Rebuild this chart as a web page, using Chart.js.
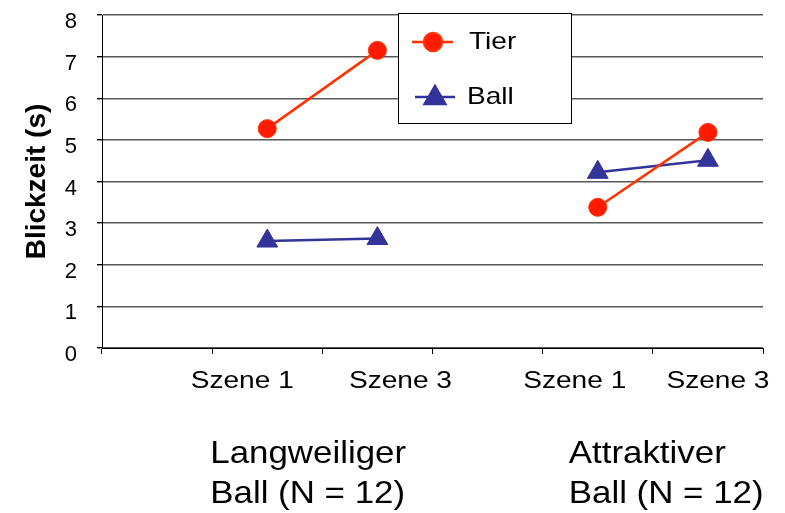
<!DOCTYPE html>
<html>
<head>
<meta charset="utf-8">
<script src="https://cdn.jsdelivr.net/npm/chart.js@4.4.0/dist/chart.umd.min.js"></script>
<style>
  html, body { margin: 0; padding: 0; background: #ffffff; }
  canvas { display: block; }
</style>
</head>
<body>
<canvas id="chart" width="785" height="513"></canvas>
<script>
// Category slots along the x axis (empty slots separate the two groups)
const sceneLabels = ['', 'Szene 1', 'Szene 3', '', 'Szene 1', 'Szene 3'];
// Viewing time in seconds
const tierValues = [null, 5.27, 7.15, null, 3.38, 5.18];
const ballValues = [null, 2.57, 2.63, null, 4.22, 4.51];
// Group captions below the scene labels
const groupCaptions = [
  ['Langweiliger', 'Ball (N = 12)'],
  ['Attraktiver', 'Ball (N = 12)']
];
const yTickValues = [0, 1, 2, 3, 4, 5, 6, 7, 8];
const seriesNames = ['Tier', 'Ball'];

const FONT = "'Liberation Sans', Arial, Helvetica, sans-serif";

function wideText(ctx, text, x, y, size, weight, sx, align, baseline) {
  ctx.save();
  ctx.font = weight + ' ' + size + 'px ' + FONT;
  ctx.fillStyle = '#000000';
  ctx.textAlign = align;
  ctx.textBaseline = baseline;
  ctx.translate(x, y);
  ctx.scale(sx, 1);
  ctx.fillText(text, 0, 0);
  ctx.restore();
}

const annotations = {
  id: 'annotations',
  afterDraw(chart) {
    const { ctx, chartArea } = chart;
    const xs = chart.scales.x;

    // scene labels, nudged apart within each group
    const nudge = [0, -25, 23, 0, -23, 10];
    sceneLabels.forEach((lab, i) => {
      if (!lab) return;
      wideText(ctx, lab, xs.getPixelForValue(i) + nudge[i], chartArea.bottom + 33, 24, 'normal', 1.17, 'center', 'middle');
    });

    // group captions
    const captionX = [xs.getPixelForValue(1) - 57, xs.getPixelForValue(4) - 29];
    groupCaptions.forEach((lines, g) => {
      lines.forEach((line, k) => {
        wideText(ctx, line, captionX[g], chartArea.bottom + 115 + k * 40, 32, 'normal', 1.09, 'left', 'alphabetic');
      });
    });

    // legend box inside the plot
    const bx = chartArea.left + 296, by = chartArea.top - 2, bw = 173, bh = 110;
    ctx.save();
    ctx.fillStyle = '#ffffff';
    ctx.fillRect(bx, by, bw, bh);
    ctx.strokeStyle = '#000000';
    ctx.lineWidth = 1;
    ctx.strokeRect(bx + 0.5, by + 0.5, bw, bh);
    ctx.restore();

    const rows = [
      { y: by + 29, lx0: bx + 14, lx1: bx + 55, mx: bx + 35, tx: bx + 71 },
      { y: by + 84, lx0: bx + 17, lx1: bx + 57, mx: bx + 37, tx: bx + 69 }
    ];
    chart.data.datasets.forEach((ds, i) => {
      const r = rows[i];
      ctx.save();
      ctx.strokeStyle = ds.borderColor;
      ctx.lineWidth = ds.borderWidth;
      ctx.beginPath();
      ctx.moveTo(r.lx0, r.y);
      ctx.lineTo(r.lx1, r.y);
      ctx.stroke();
      ctx.fillStyle = ds.pointBackgroundColor;
      ctx.strokeStyle = ds.pointBorderColor;
      Chart.helpers.drawPoint(ctx, {
        pointStyle: ds.pointStyle,
        radius: ds.pointRadius,
        borderWidth: ds.pointBorderWidth,
        rotation: 0
      }, r.mx, r.y + (ds.pointStyle === 'triangle' ? 1 : 0));
      ctx.restore();
      wideText(ctx, ds.label, r.tx, r.y, 24, 'normal', 1.17, 'left', 'middle');
    });
  }
};

new Chart(document.getElementById('chart'), {
  type: 'line',
  data: {
    labels: sceneLabels,
    datasets: [
      {
        label: seriesNames[0],
        data: tierValues,
        borderColor: '#FF3300',
        borderWidth: 2.5,
        pointStyle: 'circle',
        pointRadius: 9,
        pointBackgroundColor: '#FF1A00',
        pointBorderColor: '#FF3300',
        pointBorderWidth: 1,
        spanGaps: false,
        tension: 0
      },
      {
        label: seriesNames[1],
        data: ballValues,
        borderColor: '#333399',
        borderWidth: 2.5,
        pointStyle: 'triangle',
        pointRadius: 12,
        pointBackgroundColor: '#333399',
        pointBorderColor: '#333399',
        pointBorderWidth: 1,
        spanGaps: false,
        tension: 0
      }
    ]
  },
  options: {
    responsive: false,
    animation: false,
    events: [],
    layout: { padding: { top: 15, right: 22, left: 0, bottom: 0 } },
    plugins: {
      legend: { display: false },
      tooltip: { enabled: false }
    },
    scales: {
      x: {
        type: 'category',
        offset: true,
        grid: {
          offset: true,
          drawOnChartArea: false,
          drawTicks: true,
          tickLength: 6,
          color: '#000000',
          lineWidth: 1
        },
        border: { display: true, color: '#000000', width: 1 },
        ticks: { display: false },
        afterFit(scale) {
          scale.height = 165;
          scale.paddingLeft = 0;
          scale.paddingRight = 0;
        }
      },
      y: {
        min: 0,
        max: 8,
        afterBuildTicks(scale) {
          scale.ticks = yTickValues.map(v => ({ value: v }));
        },
        grid: {
          color: '#595959',
          lineWidth: 1.4,
          drawTicks: true,
          tickLength: 5,
          tickColor: '#000000'
        },
        border: { display: true, color: '#000000', width: 1 },
        ticks: {
          color: '#000000',
          padding: 20,
          labelOffset: 7,
          font: { family: FONT, size: 22 }
        },
        title: {
          display: true,
          text: 'Blickzeit (s)',
          color: '#000000',
          font: { family: FONT, size: 28, weight: 'bold', lineHeight: 1.2 },
          padding: { top: 20, bottom: 0 }
        },
        afterFit(scale) {
          scale.width = 102;
          scale.paddingTop = 0;
          scale.paddingBottom = 0;
        }
      }
    }
  },
  plugins: [annotations]
});
</script>
</body>
</html>
